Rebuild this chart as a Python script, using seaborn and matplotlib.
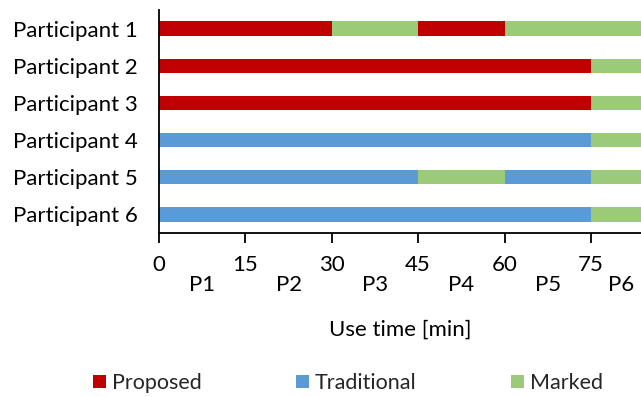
import matplotlib
matplotlib.use("Agg")
import matplotlib.pyplot as plt
from matplotlib.patches import Patch
import seaborn as sns
import pandas as pd

# Usage timeline per participant: where each segment ends (min) and which mode it was
participants = ["Participant 1", "Participant 2", "Participant 3",
                "Participant 4", "Participant 5", "Participant 6"]
segment_ends = [
    [30, 45, 60, 90],
    [75, 90],
    [75, 90],
    [75, 90],
    [45, 60, 75, 90],
    [75, 90],
]
segment_modes = [
    ["Proposed", "Marked", "Proposed", "Marked"],
    ["Proposed", "Marked"],
    ["Proposed", "Marked"],
    ["Traditional", "Marked"],
    ["Traditional", "Marked", "Traditional", "Marked"],
    ["Traditional", "Marked"],
]
modes = ["Proposed", "Traditional", "Marked"]
mode_colors = {"Proposed": "#C00000", "Traditional": "#5B9BD5", "Marked": "#9BCB78"}

x_ticks = [0, 15, 30, 45, 60, 75]
period_labels = ["P1", "P2", "P3", "P4", "P5", "P6"]
period_centers = [7.5, 22.5, 37.5, 52.5, 67.5, 82.5]

rows = []
for name, ends, kinds in zip(participants, segment_ends, segment_modes):
    for end, kind in zip(ends, kinds):
        rows.append({"participant": name, "end": end, "mode": kind})
df = pd.DataFrame(rows)

sns.set_theme(style="white")
plt.rcParams["font.family"] = ["Lato", "DejaVu Sans"]

FS = 16

fig = plt.figure(figsize=(6.41, 3.97), dpi=100)
ax = fig.add_axes([159 / 641, 1 - 233 / 397, 1 - 159 / 641, 223 / 397])

# Stack segments by painting the longest cumulative bars first
for end_value in sorted(df["end"].unique(), reverse=True):
    sub = df[df["end"] == end_value]
    sns.barplot(data=sub, x="end", y="participant", hue="mode",
                order=participants, hue_order=modes, palette=mode_colors,
                saturation=1, dodge=False, width=0.4, linewidth=0, legend=False,
                orient="h", ax=ax)

ax.set_xlim(0, 83.7)
ax.set_ylim(5.51, -0.51)

for side in ["top", "right"]:
    ax.spines[side].set_visible(False)
for side in ["left", "bottom"]:
    ax.spines[side].set_color("black")
    ax.spines[side].set_linewidth(1.3)

ax.set_xticks(x_ticks)
ax.set_xticklabels([str(t) for t in x_ticks])
ax.set_xticks(period_centers, minor=True)
ax.set_xticklabels(period_labels, minor=True)
ax.tick_params(axis="x", which="major", direction="out", length=7, width=1.3,
               color="black", labelsize=FS, pad=9, bottom=True, labelcolor="black")
ax.tick_params(axis="x", which="minor", length=0, labelsize=FS, pad=30, bottom=True,
               labelcolor="black")
ax.xaxis.get_minorticklabels()[-1].set_horizontalalignment("right")
ax.tick_params(axis="y", length=0, labelsize=FS, pad=15, colors="black")
ax.set_ylabel("")
ax.set_xlabel("Use time [min]", fontsize=FS, labelpad=18, color="black")

handles = [Patch(facecolor=mode_colors[m], edgecolor="none", label=m) for m in modes]
fig.legend(handles=handles, loc="center", bbox_to_anchor=(0.543, 1 - 383 / 397),
           ncol=3, frameon=False, fontsize=15.5, handlelength=0.6, handleheight=0.6,
           handletextpad=0.28, columnspacing=4.4)

fig.savefig("out.png", dpi=100)
